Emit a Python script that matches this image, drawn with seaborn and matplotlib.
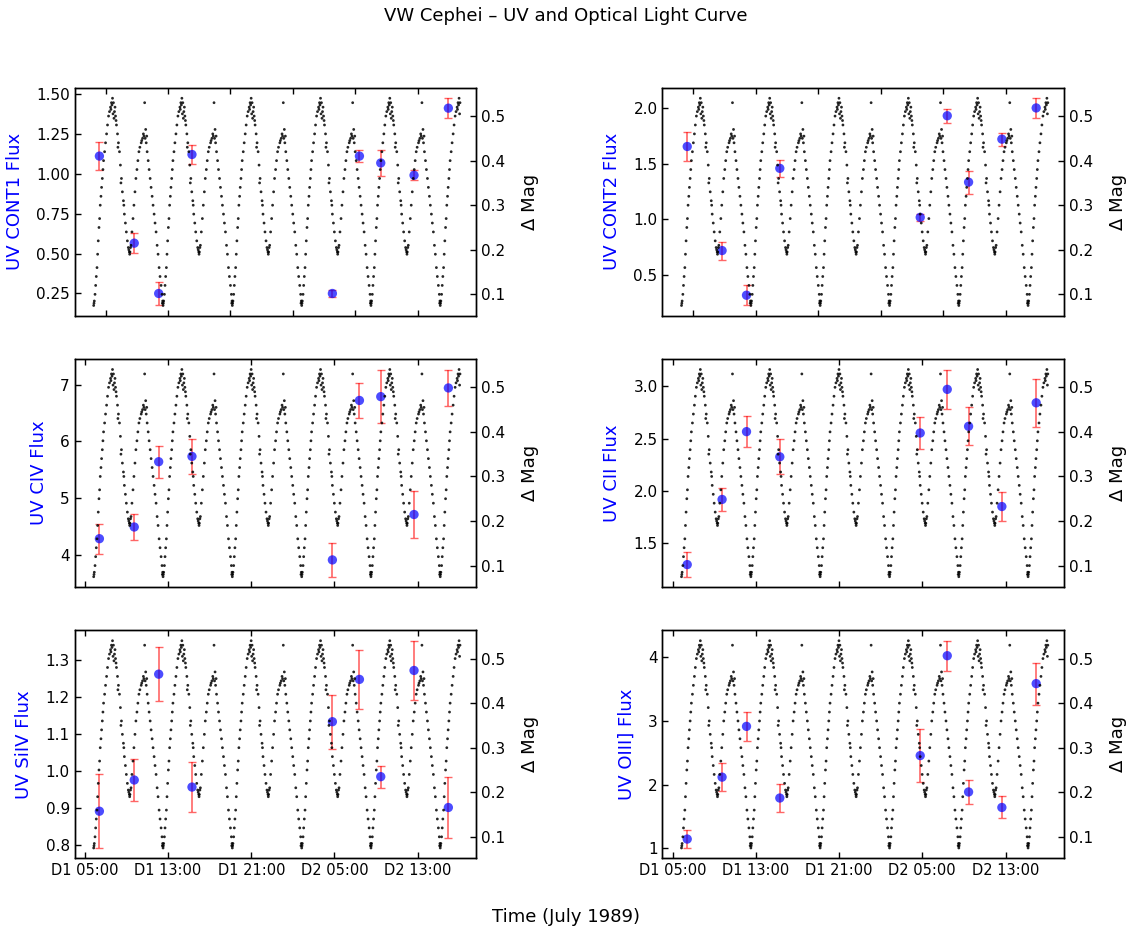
import numpy as np
import pandas as pd
import matplotlib
matplotlib.use('Agg')
import matplotlib.pyplot as plt
from matplotlib.ticker import FixedLocator, FuncFormatter
import seaborn as sns


# ===================================
# Data
# time in hours since D1 00:00, July 1989
# ===================================
UV_TIME = [6.4, 9.75, 12.1, 15.3, 28.8, 31.4, 33.45, 36.65, 39.95]

CONT1     = [1.110, 0.565, 0.250, 1.120, 0.250, 1.110, 1.067, 0.990, 1.410]
CONT1_ERR = [0.087, 0.063, 0.075, 0.060, 0.022, 0.038, 0.084, 0.032, 0.062]
CONT2     = [1.654, 0.720, 0.319, 1.458, 1.018, 1.930, 1.334, 1.720, 2.000]
CONT2_ERR = [0.128, 0.081, 0.092, 0.074, 0.030, 0.062, 0.102, 0.059, 0.087]
CIV       = [4.284, 4.490, 5.640, 5.734, 3.910, 6.720, 6.787, 4.710, 6.940]
CIV_ERR   = [0.266, 0.230, 0.284, 0.314, 0.296, 0.308, 0.470, 0.420, 0.325]
CII       = [1.293, 1.917, 2.566, 2.325, 2.553, 2.971, 2.617, 1.849, 2.842]
CII_ERR   = [0.116, 0.106, 0.148, 0.166, 0.156, 0.190, 0.183, 0.140, 0.227]
SIIV      = [0.892, 0.976, 1.261, 0.957, 1.133, 1.247, 0.985, 1.271, 0.902]
SIIV_ERR  = [0.099, 0.056, 0.072, 0.068, 0.073, 0.080, 0.030, 0.080, 0.082]
OIII      = [1.148, 2.120, 2.917, 1.792, 2.458, 4.026, 1.887, 1.644, 3.588]
OIII_ERR  = [0.140, 0.222, 0.227, 0.217, 0.412, 0.235, 0.185, 0.172, 0.330]

LINE_LABELS = ['UV CONT1 Flux', 'UV CONT2 Flux', 'UV CIV Flux',
               'UV CII Flux', 'UV SiIV Flux', 'UV OIII] Flux']

FLUX_TICKS = [[0.25, 0.50, 0.75, 1.00, 1.25, 1.50],
              [0.5, 1.0, 1.5, 2.0],
              [4, 5, 6, 7],
              [1.5, 2.0, 2.5, 3.0],
              [0.8, 0.9, 1.0, 1.1, 1.2, 1.3],
              [1, 2, 3, 4]]
MAG_TICKS = [0.1, 0.2, 0.3, 0.4, 0.5]

# optical light curve: one cycle read as hours after primary minimum
LC_PHASE = [0.00, 0.06, 0.13, 0.19, 0.25, 0.32, 0.38, 0.44, 0.51, 0.57,
            0.63, 0.70, 0.76, 0.83, 0.89, 0.95, 1.05, 1.14, 1.24, 1.33,
            1.43, 1.52, 1.62, 1.71, 1.81, 1.90, 2.00, 2.10, 2.19, 2.29,
            2.38, 2.48, 2.57, 2.67, 2.76, 2.86, 2.95, 3.05, 3.14, 3.24,
            3.33, 3.43, 3.49, 3.59, 3.68, 3.78, 3.87, 3.97, 4.06, 4.16,
            4.25, 4.35, 4.44, 4.57, 4.70, 4.83, 4.95, 5.05, 5.14, 5.24,
            5.33, 5.43, 5.52, 5.62, 5.71, 5.81, 5.90, 6.00, 6.10, 6.19,
            6.29, 6.38, 6.48, 6.57, 6.63,
            # scatter around the maxima / minima
            1.66, 1.76, 1.86, 1.95, 2.05, 2.15, 2.33, 3.38, 3.46, 3.54,
            4.62, 4.78, 4.90, 5.00, 5.10, 0.03, 6.60, 2.62, 2.90]
LC_DMAG  = [0.075, 0.085, 0.100, 0.120, 0.140, 0.160, 0.190, 0.220, 0.250, 0.270,
            0.300, 0.320, 0.340, 0.360, 0.380, 0.400, 0.420, 0.440, 0.460, 0.480,
            0.500, 0.510, 0.520, 0.530, 0.540, 0.530, 0.510, 0.500, 0.480, 0.460,
            0.440, 0.420, 0.390, 0.360, 0.330, 0.310, 0.280, 0.260, 0.240, 0.220,
            0.205, 0.195, 0.195, 0.210, 0.240, 0.270, 0.300, 0.330, 0.360, 0.380,
            0.400, 0.420, 0.430, 0.440, 0.450, 0.455, 0.450, 0.440, 0.420, 0.400,
            0.380, 0.360, 0.340, 0.320, 0.300, 0.280, 0.260, 0.240, 0.210, 0.190,
            0.160, 0.140, 0.120, 0.100, 0.085,
            0.515, 0.525, 0.505, 0.495, 0.520, 0.490, 0.430, 0.200, 0.190, 0.205,
            0.445, 0.460, 0.530, 0.470, 0.455, 0.080, 0.080, 0.350, 0.300]
LC_EPOCHS = [5.85, 12.52, 19.18, 25.85, 32.51, 39.17]
LC_END    = 41.1

ROW_TICKS = [[7, 13, 19, 25, 31, 37], [5, 13, 21, 29, 37], [5, 13, 21, 29, 37]]


# ===================================
# Build tables
# ===================================
uv_series = [(CONT1, CONT1_ERR), (CONT2, CONT2_ERR), (CIV, CIV_ERR),
             (CII, CII_ERR), (SIIV, SIIV_ERR), (OIII, OIII_ERR)]

lc_rows = []
for ep in LC_EPOCHS:
    for ph, m in zip(LC_PHASE, LC_DMAG):
        if ep + ph <= LC_END:
            lc_rows.append((ep + ph, m))
lc = pd.DataFrame(lc_rows, columns=['time', 'dmag'])


def fmt_time(h, pos):
    day = int(h // 24) + 1
    hour = int(round(h % 24))
    return f"D{day} {hour:02d}:00"


# ===================================
# Plot
# ===================================
sns.set_theme(style='white')
plt.rcParams['font.family'] = ['DejaVu Sans']
plt.rcParams.update({
    'text.color': 'black', 'axes.labelcolor': 'black',
    'xtick.color': 'black', 'ytick.color': 'black',
    'xtick.direction': 'in', 'ytick.direction': 'in',
    'xtick.labelsize': 10.5, 'ytick.labelsize': 11,
})

fig, axes = plt.subplots(3, 2, figsize=(11.31, 9.35), dpi=100)
fig.subplots_adjust(left=0.066, right=0.941, bottom=0.082, top=0.906,
                    wspace=0.463, hspace=0.19)

for i, ax in enumerate(axes.flat):
    row = i // 2
    vals, errs = uv_series[i]
    uv = pd.DataFrame({'time': UV_TIME, 'flux': vals, 'err': errs})

    ax.errorbar(uv['time'], uv['flux'], yerr=uv['err'], fmt='none',
                ecolor='red', alpha=0.6, capsize=3, elinewidth=1.2, zorder=2)
    sns.scatterplot(data=uv, x='time', y='flux', ax=ax, color='blue',
                    alpha=0.7, s=45, edgecolor='none', zorder=3)
    ax.set_ylabel(LINE_LABELS[i], color='blue', fontsize=13, labelpad=9)
    ax.set_xlabel('')
    ax.set_xlim(4.02, 42.65)
    ax.set_yticks(FLUX_TICKS[i])
    ax.xaxis.set_major_locator(FixedLocator(ROW_TICKS[row]))
    ax.xaxis.set_major_formatter(FuncFormatter(fmt_time))
    ax.tick_params(axis='both', which='major', direction='in', length=4,
                   width=1, color='black', top=True, bottom=True, left=True,
                   labelbottom=(row == 2))
    for sp in ax.spines.values():
        sp.set_color('black')
        sp.set_linewidth(1)

    ax2 = ax.twinx()
    sns.scatterplot(data=lc, x='time', y='dmag', ax=ax2, color='black',
                    s=4, edgecolor='none', alpha=0.85)
    ax2.set_ylabel('Δ Mag', fontsize=13, labelpad=11)
    ax2.set_xlabel('')
    ax2.set_yticks(MAG_TICKS)
    ax2.tick_params(axis='y', direction='in', length=4, width=1,
                    color='black', right=True)
    for sp in ax2.spines.values():
        sp.set_color('black')
        sp.set_linewidth(1)

fig.suptitle('VW Cephei – UV and Optical Light Curve', fontsize=13, y=0.993)
fig.supxlabel('Time (July 1989)', fontsize=13, y=0.01)

plt.savefig('out.png', dpi=100)
plt.close()
